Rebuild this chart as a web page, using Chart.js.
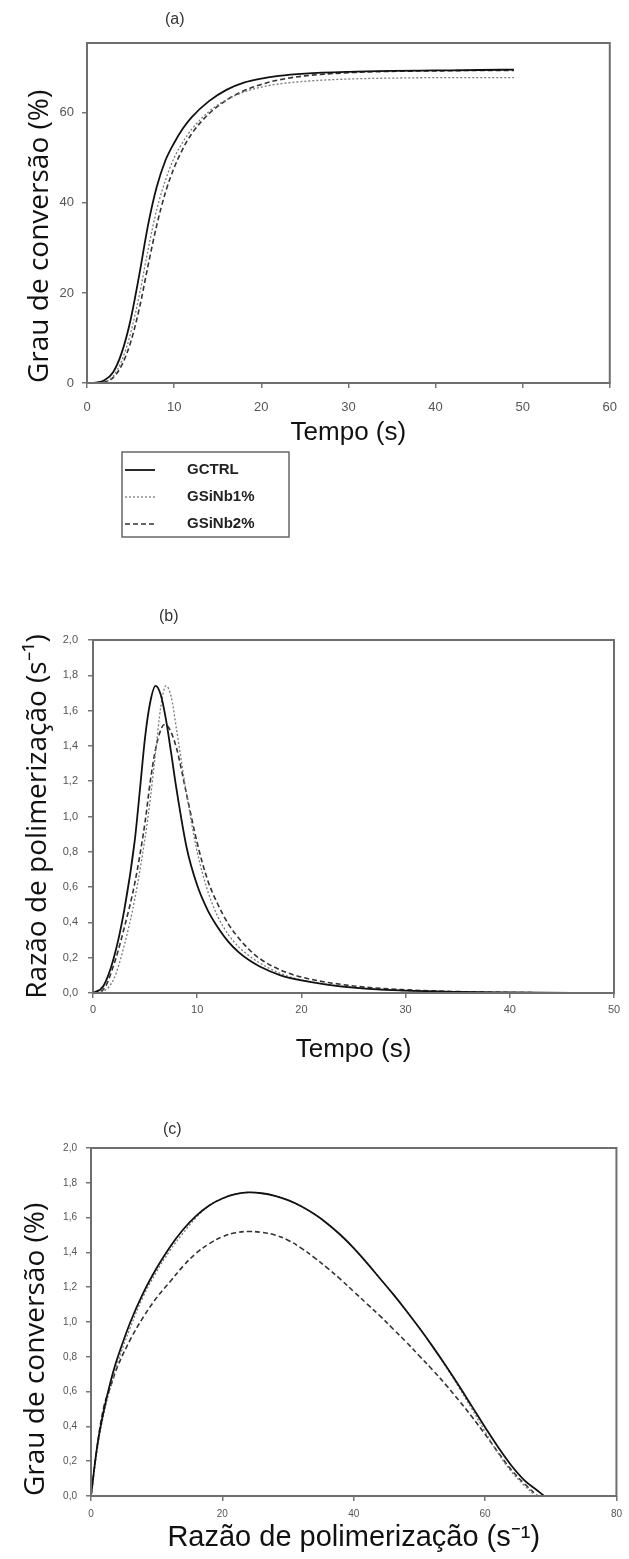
<!DOCTYPE html>
<html><head><meta charset="utf-8">
<script src="https://cdn.jsdelivr.net/npm/chart.js@4.4.1/dist/chart.umd.min.js"></script>
<style>
html,body{margin:0;padding:0;background:#fff;}
body{width:629px;height:1559px;position:relative;overflow:hidden;}
canvas{position:absolute;left:0;}
</style></head><body>
<canvas id="ca" width="629" height="560" style="top:0px"></canvas>
<canvas id="cb" width="629" height="530" style="top:560px"></canvas>
<canvas id="cc" width="629" height="469" style="top:1090px"></canvas>
<script>
// ---------- DATA ----------
const SERIES = ['GCTRL', 'GSiNb1%', 'GSiNb2%'];

// (a) Grau de conversão (%) vs Tempo (s)
const TEMPO_A   = [0,1,2,3,4,5,6,7,8,9,10,11,12,14,16,18,20,22,25,30,35,40,45,49];
const A_CTRL    = [0,0.1,0.6,2.4,6.8,14,24,35,43.5,49.4,53.3,56.5,59,62.6,65.1,66.7,67.6,68.2,68.7,69.1,69.3,69.4,69.5,69.6];
const A_SINB1   = [0,0,0.2,1.5,5,11,19.5,29.5,38.5,45,50,53.5,56.3,60.3,62.9,64.6,65.7,66.4,67,67.5,67.7,67.8,67.8,67.8];
const A_SINB2   = [0,0,0.2,1.2,4,9,16.5,26,35,42.3,47.8,52,55.3,59.8,62.8,64.9,66.3,67.3,68.2,68.9,69.2,69.3,69.4,69.4];

// (b) Razão de polimerização (s-1) vs Tempo (s)
const TEMPO_B_CTRL  = [0,1,2,3,4,4.5,5,5.5,6,6.5,7,7.5,8,9,10,11,12,13,14,15,16,18,20,25,30,35,40,49];
const B_CTRL        = [0,0.04,0.2,0.47,0.86,1.15,1.45,1.65,1.74,1.69,1.55,1.36,1.16,0.82,0.61,0.47,0.37,0.29,0.23,0.185,0.15,0.1,0.072,0.03,0.013,0.006,0.003,0];
const TEMPO_B_SINB1 = [0,1,2,3,4,5,5.5,6,6.5,7,7.5,8,9,10,11,12,13,14,15,16,18,20,25,30,35,40,49];
const B_SINB1       = [0,0.01,0.08,0.27,0.53,0.88,1.1,1.36,1.62,1.74,1.68,1.5,1.12,0.8,0.58,0.43,0.33,0.26,0.21,0.17,0.11,0.075,0.032,0.013,0.005,0.002,0];
const TEMPO_B_SINB2 = [0,1,2,3,4,5,5.5,6,6.5,6.8,7.3,8,9,10,11,12,13,14,15,16,18,20,25,30,35,40,49];
const B_SINB2       = [0,0.02,0.16,0.37,0.62,0.97,1.2,1.38,1.49,1.52,1.5,1.39,1.12,0.85,0.64,0.5,0.39,0.31,0.245,0.195,0.13,0.09,0.04,0.018,0.008,0.003,0];

// (c) Grau de conversão vs Razão de polimerização
const RP_CTRL  = [0,1,2,3,4,6,8,10,12,14,16,18,20,22,24,26,28,30,32,34,36,38,40,42,44,46,48,50,52,54,56,58,60,62,64,66,68,69];
const C_CTRL   = [0,0.3,0.5,0.66,0.79,1.0,1.17,1.31,1.43,1.53,1.61,1.67,1.71,1.735,1.745,1.74,1.725,1.7,1.665,1.62,1.565,1.5,1.425,1.34,1.25,1.16,1.065,0.965,0.86,0.75,0.635,0.515,0.395,0.28,0.175,0.09,0.03,0];
const RP_SINB1 = [0,1,2,3,4,6,8,10,12,14,16,18,20,22,24,26,28,30,32,34,36,38,40,42,44,46,48,50,52,54,56,58,60,62,64,66,67.7];
const C_SINB1  = [0,0.28,0.48,0.63,0.76,0.97,1.15,1.29,1.41,1.51,1.6,1.67,1.71,1.735,1.745,1.74,1.725,1.7,1.665,1.62,1.565,1.5,1.425,1.34,1.25,1.16,1.065,0.965,0.86,0.745,0.625,0.5,0.37,0.245,0.14,0.06,0];
const RP_SINB2 = [0,1,2,3,4,6,8,10,12,14,16,18,20,22,24,26,28,30,32,34,36,38,40,42,44,46,48,50,52,54,56,58,60,62,64,66,68];
const C_SINB2  = [0,0.3,0.52,0.63,0.74,0.9,1.03,1.14,1.23,1.32,1.395,1.45,1.49,1.513,1.52,1.515,1.5,1.47,1.425,1.37,1.31,1.245,1.175,1.105,1.035,0.96,0.885,0.805,0.725,0.64,0.55,0.455,0.355,0.25,0.15,0.07,0];

// ---------- STYLE ----------
const STYLES = [
  {borderColor:'#111', borderWidth:1.8, borderDash:[]},
  {borderColor:'#7a7a7a', borderWidth:1.3, borderDash:[2,2]},
  {borderColor:'#333', borderWidth:1.6, borderDash:[5,3]}
];
const pts = (xs, ys) => xs.map((x, i) => ({x: x, y: ys[i]}));
function ds(i, xs, ys, smooth){
  const d = Object.assign({label: SERIES[i], data: pts(xs, ys), pointRadius: 0, pointHoverRadius: 0,
    fill: false, backgroundColor: 'transparent'}, STYLES[i]);
  if (smooth) { d.cubicInterpolationMode = 'default'; d.tension = 0.4; }
  else d.cubicInterpolationMode = 'monotone';
  return d;
}
const comma = v => v.toFixed(1).replace('.', ',');

// legend symbol: a short line in the dataset's own stroke style
function symbol(st){
  const c = document.createElement('canvas'); c.width = 30; c.height = 4;
  const g = c.getContext('2d');
  g.strokeStyle = st.borderColor; g.lineWidth = st.borderWidth; g.setLineDash(st.borderDash);
  g.beginPath(); g.moveTo(0, 2); g.lineTo(30, 2); g.stroke();
  return c;
}

function axis(o){
  return {
    type: 'linear', position: o.pos, min: o.min, max: o.max,
    afterFit: s => { if (o.pos === 'left') s.width = o.size; else s.height = o.size; },
    ticks: {stepSize: o.step, includeBounds: false, padding: o.tpad, color: '#555', autoSkip: false, maxRotation: 0,
      font: {family: 'Arial, "Liberation Sans"', size: o.tsize}, callback: o.fmt || (v => String(v))},
    grid: {drawOnChartArea: false, drawTicks: true, tickLength: 5, color: '#777', lineWidth: 1.5},
    border: {display: false},
    title: {display: true, text: o.title, color: '#111', align: o.talign || 'center',
      font: {family: o.tfam, size: o.tfs}, padding: {top: o.tp, bottom: o.tp}}
  };
}

const place = {
  id: 'place',
  afterLayout(chart, args, o){
    if (o.title && chart.titleBlock){
      const t = chart.titleBlock, h = t.height;
      t.left = o.title.x; t.right = o.title.x + 100; t.width = 100;
      t.top = o.title.cy - h / 2; t.bottom = t.top + h;
    }
    if (o.legend && chart.legend){
      const l = chart.legend;
      l.left = o.legend.x; l.top = o.legend.y; l.right = l.left + o.legend.w; l.width = o.legend.w;
      l.bottom = l.top + 200; l.height = 200;
    }
  },
  afterDatasetsDraw(chart){
    const {ctx, chartArea: a} = chart;
    ctx.save(); ctx.strokeStyle = '#6e6e6e'; ctx.lineWidth = 2;
    ctx.strokeRect(a.left, a.top, a.right - a.left, a.bottom - a.top);
    ctx.restore();
  },
  afterDraw(chart, args, o){
    if (!o.box) return;
    const ctx = chart.ctx, b = o.box;
    ctx.save(); ctx.strokeStyle = '#666'; ctx.lineWidth = 1.5;
    ctx.strokeRect(b.x, b.y, b.w, b.h); ctx.restore();
  }
};

function titleOpts(text){
  return {display: true, text: text, align: 'start', color: '#333', padding: 0,
    font: {family: 'Arial, "Liberation Sans"', size: 16, weight: 'normal'}};
}

const ARIAL = 'Arial, "Liberation Sans"';
const SANS = '"Open Sans"';

// ---------- (a) ----------
new Chart(document.getElementById('ca'), {
  type: 'line',
  data: {datasets: [ds(0, TEMPO_A, A_CTRL), ds(1, TEMPO_A, A_SINB1), ds(2, TEMPO_A, A_SINB2)]},
  options: {
    responsive: false, animation: false, events: [],
    layout: {padding: {top: 23.8, left: 0, right: 16, bottom: 107}},
    scales: {
      x: axis({pos: 'bottom', min: 0, max: 60, step: 10, size: 70, tpad: 12, tsize: 13,
        title: 'Tempo (s)', tfam: ARIAL, tfs: 26, tp: 4.4}),
      y: axis({pos: 'left', min: 0, max: 75.5, step: 20, size: 87, tpad: 8, tsize: 13,
        title: 'Grau de conversão (%)', tfam: SANS, tfs: 28, tp: 23.2, talign: 'start'})
    },
    plugins: {
      title: titleOpts('(a)'),
      legend: {display: true, position: 'chartArea', align: 'start',
        labels: {usePointStyle: true, pointStyleWidth: 79, padding: 12, color: '#222',
          font: {family: ARIAL, size: 15, weight: 'bold'},
          generateLabels(chart){
            const items = Chart.defaults.plugins.legend.labels.generateLabels(chart);
            items.forEach((it, i) => { it.pointStyle = symbol(STYLES[i]); });
            return items;
          }}},
      tooltip: {enabled: false},
      place: {title: {x: 165, cy: 20}, legend: {x: 88.5, y: 450.5, w: 200}, box: {x: 122, y: 452, w: 167, h: 85}}
    }
  },
  plugins: [place]
});

// ---------- (b) ----------
new Chart(document.getElementById('cb'), {
  type: 'line',
  data: {datasets: [ds(0, TEMPO_B_CTRL, B_CTRL), ds(1, TEMPO_B_SINB1, B_SINB1), ds(2, TEMPO_B_SINB2, B_SINB2)]},
  options: {
    responsive: false, animation: false, events: [],
    layout: {padding: {top: 60.8, left: 0, right: 15, bottom: 22}},
    scales: {
      x: axis({pos: 'bottom', min: 0, max: 50, step: 10, size: 75, tpad: 5, tsize: 11,
        title: 'Tempo (s)', tfam: ARIAL, tfs: 26, tp: 2.4}),
      y: axis({pos: 'left', min: 0, max: 2, step: 0.2, size: 93, tpad: 10, tsize: 11, fmt: comma,
        title: 'Razão de polimerização (s⁻¹)', tfam: SANS, tfs: 28, tp: 21.2})
    },
    plugins: {
      title: titleOpts('(b)'),
      legend: {display: false},
      tooltip: {enabled: false},
      place: {title: {x: 159, cy: 57}}
    }
  },
  plugins: [place]
});

// ---------- (c) ----------
new Chart(document.getElementById('cc'), {
  type: 'line',
  data: {datasets: [ds(0, RP_CTRL, C_CTRL, true), ds(1, RP_SINB1, C_SINB1, true), ds(2, RP_SINB2, C_SINB2, true)]},
  options: {
    responsive: false, animation: false, events: [],
    layout: {padding: {top: 38.8, left: 0, right: 12, bottom: 3}},
    scales: {
      x: axis({pos: 'bottom', min: 0, max: 80, step: 20, size: 60, tpad: 7, tsize: 10,
        title: 'Razão de polimerização (s⁻¹)', tfam: ARIAL, tfs: 29, tp: 0.6}),
      y: axis({pos: 'left', min: 0, max: 2, step: 0.2, size: 91, tpad: 9, tsize: 10, fmt: comma,
        title: 'Grau de conversão (%)', tfam: SANS, tfs: 28, tp: 19.2, talign: 'start'})
    },
    plugins: {
      title: titleOpts('(c)'),
      legend: {display: false},
      tooltip: {enabled: false},
      place: {title: {x: 163, cy: 40}}
    }
  },
  plugins: [place]
});
</script>
</body></html>
